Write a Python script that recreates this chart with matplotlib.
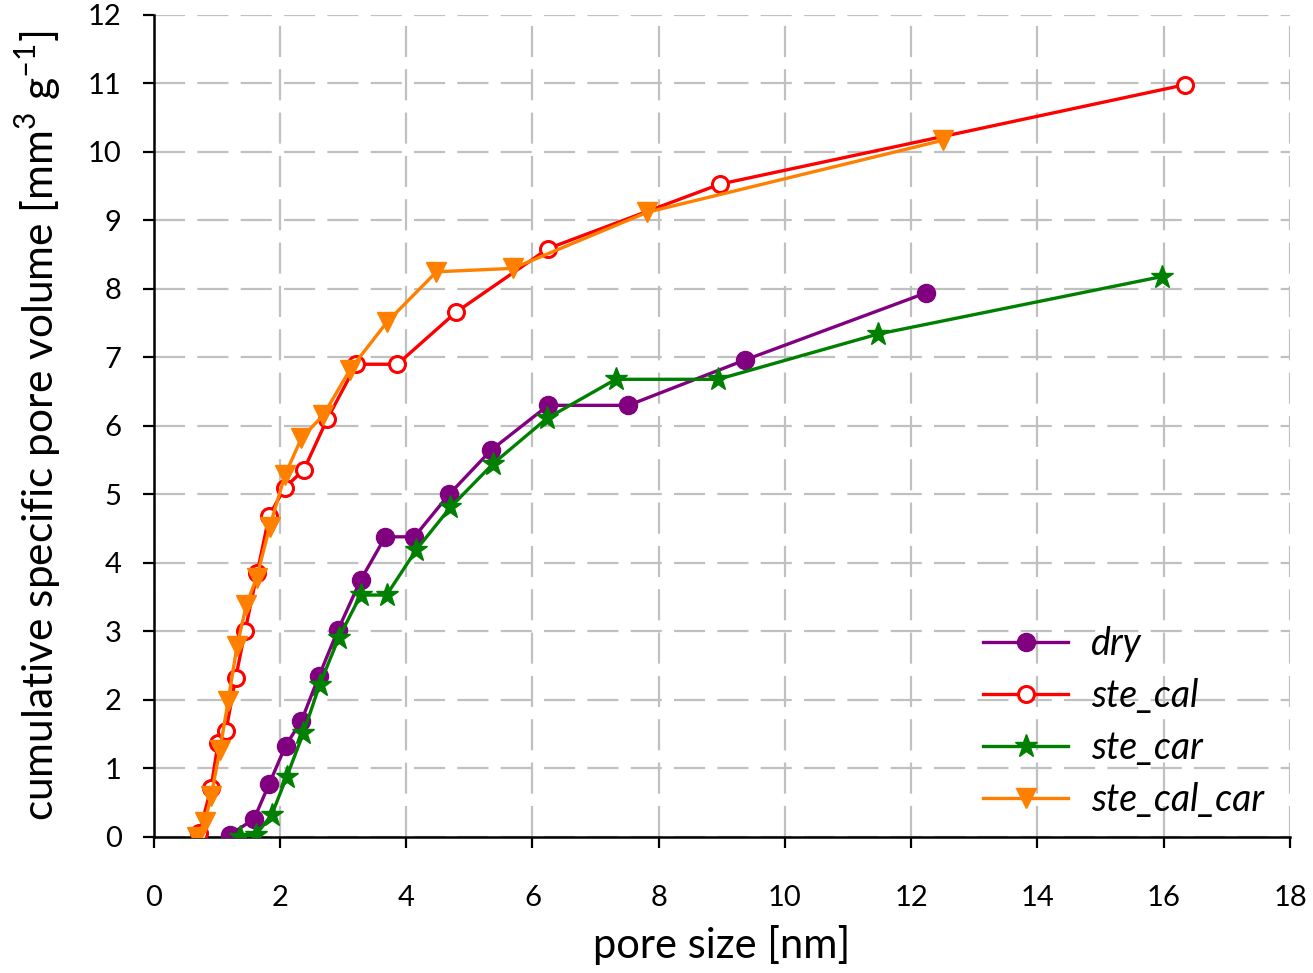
import matplotlib.pyplot as plt

plt.rcParams['font.family'] = ['Lato', 'DejaVu Sans']
plt.rcParams['mathtext.fontset'] = 'custom'
plt.rcParams['mathtext.rm'] = 'Lato'

# pore size [nm] / cumulative specific pore volume [mm3 g-1]
dry_x = [1.21, 1.59, 1.83, 2.09, 2.34, 2.62, 2.92, 3.28, 3.67, 4.13, 4.68, 5.35, 6.25, 7.52, 9.36, 12.23]
dry_y = [0.03, 0.26, 0.77, 1.33, 1.69, 2.35, 3.02, 3.75, 4.38, 4.38, 5.00, 5.65, 6.30, 6.30, 6.96, 7.94]

cal_x = [0.72, 0.91, 1.02, 1.145, 1.30, 1.45, 1.64, 1.83, 2.08, 2.38, 2.75, 3.21, 3.86, 4.79, 6.25, 8.97, 16.33]
cal_y = [0.05, 0.71, 1.37, 1.54, 2.32, 3.01, 3.85, 4.69, 5.10, 5.36, 6.10, 6.90, 6.90, 7.66, 8.59, 9.53, 10.98]

car_x = [1.37, 1.62, 1.87, 2.11, 2.37, 2.63, 2.93, 3.28, 3.69, 4.16, 4.70, 5.38, 6.23, 7.32, 8.94, 11.47, 15.97]
car_y = [0.00, 0.03, 0.32, 0.88, 1.51, 2.22, 2.90, 3.53, 3.53, 4.19, 4.81, 5.45, 6.11, 6.68, 6.68, 7.34, 8.18]

calcar_x = [0.69, 0.81, 0.91, 1.05, 1.18, 1.32, 1.47, 1.63, 1.84, 2.08, 2.34, 2.69, 3.11, 3.70, 4.48, 5.69, 7.82, 12.50]
calcar_y = [0.00, 0.22, 0.59, 1.27, 1.98, 2.78, 3.39, 3.78, 4.53, 5.28, 5.82, 6.16, 6.82, 7.52, 8.25, 8.30, 9.12, 10.17]

fig = plt.figure(figsize=(13.13, 9.73), dpi=100)
ax = fig.add_axes([0.117, 0.14, 0.8655, 0.8446])

lw = 2.4
ax.plot(dry_x, dry_y, color='#800080', lw=lw, marker='o', ms=13, label='dry', zorder=3)
ax.plot(cal_x, cal_y, color='#ff0000', lw=lw, marker='o', ms=11.5, mfc='white', mew=2.2, label='ste_cal', zorder=3)
ax.plot(car_x, car_y, color='#008000', lw=lw, marker='*', ms=17, label='ste_car', zorder=3)
ax.plot(calcar_x, calcar_y, color='#ff8000', lw=lw, marker='v', ms=14, label='ste_cal_car', zorder=3)

ax.set_xlim(0, 18)
ax.set_ylim(0, 12)
ax.set_xticks(range(0, 19, 2))
ax.set_yticks(range(0, 13))

ax.grid(True, color='#c0c0c0', lw=1.6, linestyle=(0, (14, 5.5)))
ax.set_axisbelow(True)
for s in ['top', 'right']:
    ax.spines[s].set_visible(False)
for s in ['left', 'bottom']:
    ax.spines[s].set_linewidth(1.8)
ax.tick_params(direction='out', length=8, width=1.6, labelsize=21)
ax.tick_params(axis='x', pad=27)
ax.tick_params(axis='y', pad=15)

ax.set_xlabel('pore size [nm]', fontsize=30, labelpad=10)
ax.set_ylabel('cumulative specific pore volume [mm$^3$ g$^{\u2013 1}$]', fontsize=30.5, labelpad=18)

leg = ax.legend(loc='lower right', frameon=False, bbox_to_anchor=(0.997, -0.005),
                borderaxespad=0.2, prop={'style': 'italic', 'size': 27},
                handlelength=2.27, handletextpad=0.6, labelspacing=0.43)

fig.savefig('out.png', dpi=100)
